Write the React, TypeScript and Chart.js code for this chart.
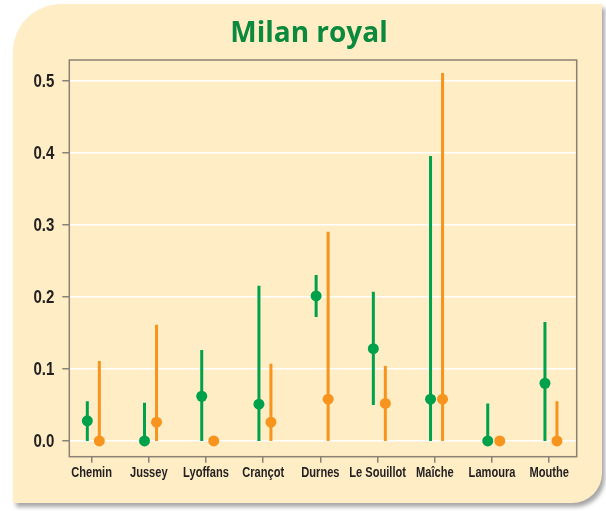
import React, { useEffect, useRef } from "react";
import { Chart, registerables } from "chart.js";

Chart.register(...registerables);

const categories = ["Chemin", "Jussey", "Lyoffans", "Crançot", "Durnes", "Le Souillot", "Maîche", "Lamoura", "Mouthe"];
const greenMean = [0.028, 0.0, 0.062, 0.051, 0.201, 0.128, 0.058, 0.0, 0.08];
const greenLow = [0, 0, 0, 0, 0.172, 0.05, 0, 0, 0];
const greenHigh = [0.055, 0.053, 0.126, 0.215, 0.23, 0.207, 0.395, 0.052, 0.165];
const orangeMean = [0, 0.026, 0, 0.026, 0.058, 0.052, 0.058, 0, 0];
const orangeLow = [0, 0, 0, 0, 0, 0, 0, 0, 0];
const orangeHigh = [0.111, 0.161, 0, 0.107, 0.29, 0.104, 0.51, 0, 0.055];
const yTicks = [0, 0.1, 0.2, 0.3, 0.4, 0.5];

const GREEN = "#00a14b";
const ORANGE = "#f7941d";
const FRAME = "#8a8272";
const TEXT = "#231f20";
const GREEN_OFF = -0.075;
const ORANGE_OFF = 0.135;

function segs(low: number[], high: number[], off: number) {
  const out: any[] = [];
  low.forEach((lo, i) => {
    if (high[i] > lo) {
      out.push({ x: i + off, y: lo });
      out.push({ x: i + off, y: high[i] });
    }
    out.push({ x: i + off, y: null });
  });
  return out;
}

function pts(vals: number[], off: number) {
  return vals.map((v, i) => ({ x: i + off, y: v }));
}

const framePlugin = {
  id: "frame",
  beforeDatasetsDraw(chart: any) {
    const { ctx, chartArea } = chart;
    ctx.save();
    ctx.strokeStyle = FRAME;
    ctx.lineWidth = 1.5;
    ctx.strokeRect(chartArea.left, chartArea.top, chartArea.right - chartArea.left, chartArea.bottom - chartArea.top);
    ctx.restore();
  },
};

// Condensed tick labels (Helvetica Condensed look) drawn at the scales' own tick positions
const condensedLabels = {
  id: "condensedLabels",
  afterDraw(chart: any) {
    const ctx = chart.ctx;
    const xs = chart.scales.x;
    const ys = chart.scales.y;
    ctx.save();
    ctx.fillStyle = TEXT;
    ctx.font = "bold 15px 'Liberation Sans', Arial, sans-serif";
    ctx.textAlign = "center";
    ctx.textBaseline = "alphabetic";
    xs.ticks.forEach((t: any) => {
      const label = categories[Math.round(t.value)] ?? "";
      ctx.save();
      ctx.translate(xs.getPixelForValue(t.value), xs.top + 20.6);
      ctx.scale(0.74, 1);
      ctx.fillText(label, 0, 0);
      ctx.restore();
    });
    ctx.font = "bold 17.5px 'Liberation Sans', Arial, sans-serif";
    ctx.textAlign = "right";
    ys.ticks.forEach((t: any) => {
      ctx.save();
      ctx.translate(ys.right - 15, ys.getPixelForValue(t.value) + 6.3);
      ctx.scale(0.86, 1);
      ctx.fillText(Number(t.value).toFixed(1), 0, 0);
      ctx.restore();
    });
    ctx.restore();
  },
};

export default function App() {
  const ref = useRef<HTMLCanvasElement>(null);
  useEffect(() => {
    document.body.style.margin = "0";
    const chart = new Chart(ref.current!, {
      type: "scatter",
      data: {
        datasets: [
          { data: segs(greenLow, greenHigh, GREEN_OFF), showLine: true, borderColor: GREEN, borderWidth: 3, pointRadius: 0, spanGaps: false, order: 3 },
          { data: segs(orangeLow, orangeHigh, ORANGE_OFF), showLine: true, borderColor: ORANGE, borderWidth: 3, pointRadius: 0, spanGaps: false, order: 3 },
          { data: pts(greenMean, GREEN_OFF), showLine: false, backgroundColor: GREEN, borderColor: GREEN, pointRadius: 5.5, borderWidth: 0, order: 1 },
          { data: pts(orangeMean, ORANGE_OFF), showLine: false, backgroundColor: ORANGE, borderColor: ORANGE, pointRadius: 5.5, borderWidth: 0, order: 2 },
        ] as any,
      },
      options: {
        animation: false,
        responsive: false,
        layout: { padding: { left: 12, right: 0, top: 0, bottom: 0 } },
        plugins: {
          legend: { display: false },
          tooltip: { enabled: false },
          title: {
            display: true,
            text: "Milan royal",
            color: "#0b8a3e",
            font: { family: "'Open Sans', sans-serif", size: 28, weight: "bold" },
            padding: { top: 17, bottom: 9.4 },
          },
        },
        scales: {
          x: {
            type: "linear",
            min: -0.39,
            max: 8.48,
            afterBuildTicks: (s: any) => {
              s.ticks = categories.map((_, i) => ({ value: i }));
            },
            afterFit: (s: any) => {
              s.height = 54.3;
            },
            ticks: { display: false },
            grid: { drawOnChartArea: false, drawTicks: true, tickLength: 6, tickColor: FRAME, lineWidth: 1.5 },
            border: { display: false },
          },
          y: {
            type: "linear",
            min: -0.0218,
            max: 0.5281,
            afterBuildTicks: (s: any) => {
              s.ticks = yTicks.map((v) => ({ value: v }));
            },
            afterFit: (s: any) => {
              s.width = 57.3;
            },
            ticks: { display: false },
            grid: { color: "#ffffff", lineWidth: 1.5, tickColor: FRAME, tickLength: 7, drawTicks: true },
            border: { display: false },
          },
          yRight: {
            type: "linear",
            position: "right",
            min: -0.0218,
            max: 0.5281,
            afterFit: (s: any) => {
              s.width = 29.3;
            },
            ticks: { display: false },
            grid: { display: false, drawOnChartArea: false },
            border: { display: false },
          },
        },
      },
      plugins: [framePlugin, condensedLabels],
    });
    return () => chart.destroy();
  }, []);

  return (
    <div style={{ position: "relative", width: 606, height: 511, background: "#fff", overflow: "hidden" }}>
      <div
        style={{
          position: "absolute",
          left: 13,
          top: 4,
          width: 589,
          height: 499,
          background: "#feedc5",
          borderRadius: "48px 0 30px 0",
          boxShadow: "3px 4px 4px rgba(0,0,0,0.35)",
        }}
      />
      <canvas ref={ref} width={606} height={511} style={{ position: "absolute", left: 0, top: 0, width: 606, height: 511 }} />
    </div>
  );
}
